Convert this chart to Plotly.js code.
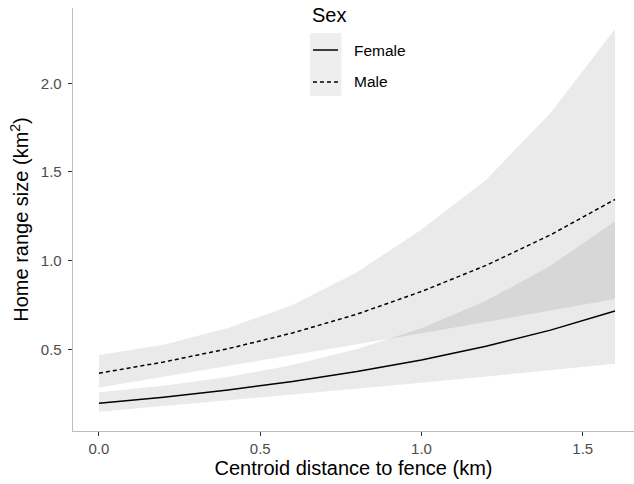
<!DOCTYPE html>
<html>
<head>
<meta charset="utf-8">
<script src="https://cdn.plot.ly/plotly-3.0.1.min.js"></script>
<style>html,body{margin:0;padding:0;background:#fff;}#chart{width:634px;height:484px;}</style>
</head>
<body>
<div id="chart"></div>
<script>
// Distance from centroid to fence (km)
const distance = [0, 0.2, 0.4, 0.6, 0.8, 1.0, 1.2, 1.4, 1.6];
// Female predicted home range (km^2) with 95% CI
const femaleFit   = [0.195, 0.229, 0.270, 0.318, 0.374, 0.439, 0.517, 0.608, 0.716];
const femaleLower = [0.147, 0.179, 0.212, 0.246, 0.279, 0.311, 0.346, 0.381, 0.419];
const femaleUpper = [0.258, 0.294, 0.343, 0.411, 0.501, 0.619, 0.773, 0.971, 1.222];
// Male predicted home range (km^2) with 95% CI
const maleFit   = [0.365, 0.428, 0.503, 0.592, 0.698, 0.826, 0.973, 1.145, 1.345];
const maleLower = [0.284, 0.344, 0.406, 0.468, 0.528, 0.591, 0.653, 0.718, 0.784];
const maleUpper = [0.468, 0.525, 0.620, 0.750, 0.935, 1.175, 1.455, 1.833, 2.306];
const sexLabels = ["Female", "Male"];
const legendTitle = "Sex";
const xTicks = [0, 0.5, 1.0, 1.5];
const xTickText = ["0.0", "0.5", "1.0", "1.5"];
const yTicks = [0.5, 1.0, 1.5, 2.0];
const yTickText = ["0.5", "1.0", "1.5", "2.0"];

const ribbonFill = "rgba(51,51,51,0.1)";
const maleDash = "4px,3px";
const traces = [
  {x: distance, y: femaleLower, type: "scatter", mode: "lines", line: {width: 0}, showlegend: false, hoverinfo: "skip"},
  {x: distance, y: femaleUpper, type: "scatter", mode: "lines", line: {width: 0}, fill: "tonexty", fillcolor: ribbonFill, showlegend: false, hoverinfo: "skip"},
  {x: distance, y: maleLower, type: "scatter", mode: "lines", line: {width: 0}, showlegend: false, hoverinfo: "skip"},
  {x: distance, y: maleUpper, type: "scatter", mode: "lines", line: {width: 0}, fill: "tonexty", fillcolor: ribbonFill, showlegend: false, hoverinfo: "skip"},
  {x: distance, y: femaleFit, type: "scatter", mode: "lines", name: sexLabels[0], showlegend: false, line: {color: "#000", width: 1.5, dash: "solid"}},
  {x: distance, y: maleFit, type: "scatter", mode: "lines", name: sexLabels[1], showlegend: false, line: {color: "#000", width: 1.5, dash: maleDash}}
];

const font = "Liberation Sans, Arial, sans-serif";
// legend drawn in paper coordinates (ggplot-style key box)
const legX = 0.4225, legX1 = 0.4786, legLine0 = 0.4278, legLine1 = 0.4724, legText = 0.4973;
const legYTitle = 0.9835, legY = [0.9007, 0.8251];
const layout = {
  width: 634, height: 484,
  margin: {l: 73, r: 0, t: 8, b: 53},
  paper_bgcolor: "#fff", plot_bgcolor: "#fff",
  font: {family: font, color: "#000"},
  showlegend: false,
  xaxis: {
    range: [-0.0806, 1.659],
    tickvals: xTicks, ticktext: xTickText,
    showgrid: false, zeroline: false,
    showline: true, linecolor: "#bdbdbd", linewidth: 1.3,
    ticks: "outside", ticklen: 4, tickcolor: "#333", tickwidth: 1,
    tickfont: {size: 15, color: "#4d4d4d"},
    title: {text: "Centroid distance to fence (km)", font: {size: 20, color: "#000"}, standoff: 4}
  },
  yaxis: {
    range: [0.039, 2.425],
    tickvals: yTicks, ticktext: yTickText,
    showgrid: false, zeroline: false,
    showline: true, linecolor: "#bdbdbd", linewidth: 1.3,
    ticks: "outside", ticklen: 4, tickcolor: "#333", tickwidth: 1,
    ticklabelstandoff: 3,
    tickfont: {size: 15, color: "#4d4d4d"},
    title: {text: "Home range size (km<sup>2</sup>)", font: {size: 20, color: "#000"}, standoff: 6}
  },
  shapes: [
    {type: "rect", xref: "paper", yref: "paper", x0: legX, x1: legX1, y0: 0.792, y1: 0.941, fillcolor: "#eeeeee", line: {width: 0}, layer: "below"},
    {type: "line", xref: "paper", yref: "paper", x0: legLine0, x1: legLine1, y0: legY[0], y1: legY[0], line: {color: "#000", width: 1.5}},
    {type: "line", xref: "paper", yref: "paper", x0: legLine0, x1: legLine1, y0: legY[1], y1: legY[1], line: {color: "#000", width: 1.5, dash: maleDash}}
  ],
  annotations: [
    {text: legendTitle, xref: "paper", yref: "paper", x: legX, y: legYTitle, xanchor: "left", yanchor: "middle", showarrow: false, font: {size: 20, color: "#000"}},
    {text: sexLabels[0], xref: "paper", yref: "paper", x: legText, y: legY[0], xanchor: "left", yanchor: "middle", showarrow: false, font: {size: 15.5, color: "#000"}},
    {text: sexLabels[1], xref: "paper", yref: "paper", x: legText, y: legY[1], xanchor: "left", yanchor: "middle", showarrow: false, font: {size: 15.5, color: "#000"}}
  ]
};
Plotly.newPlot("chart", traces, layout, {displayModeBar: false, staticPlot: true});
</script>
</body>
</html>
